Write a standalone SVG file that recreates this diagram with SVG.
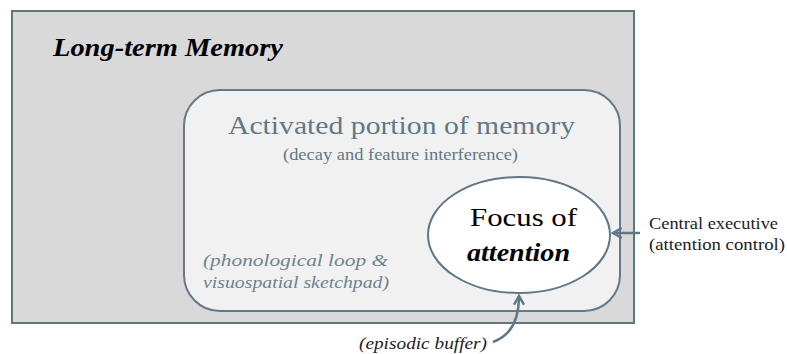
<svg xmlns="http://www.w3.org/2000/svg" width="787" height="354" viewBox="0 0 787 354">
<style>
.serif{font-family:"Liberation Serif","DejaVu Serif",serif}
.hand{font-family:"Liberation Serif","DejaVu Serif",serif;font-style:italic}
.conn{fill:none;stroke:#5e7885;stroke-width:2.5}
</style>
<defs>
<marker id="ah" viewBox="0 0 10 10" refX="8" refY="5" markerWidth="5" markerHeight="5" orient="auto" markerUnits="strokeWidth">
<path d="M1,1 L8,5 L1,9" fill="none" stroke="#5e7885" stroke-width="2"/>
</marker>
</defs>
<g id="ltm">
<rect x="12" y="11" width="622" height="312" fill="#d9d9d9" stroke="#5c7878" stroke-width="2"/>
<text x="53" y="56" class="serif" font-size="26" font-weight="bold" font-style="italic" fill="#000" textLength="230" lengthAdjust="spacingAndGlyphs">Long-term Memory</text>
</g>
<g id="activated">
<rect x="184" y="90" width="436" height="221" rx="36" fill="#f1f1f1" stroke="#62798a" stroke-width="2"/>
<text x="228" y="134" class="serif" font-size="26" fill="#5f7987" textLength="347" lengthAdjust="spacingAndGlyphs">Activated portion of memory</text>
<text x="283" y="160" class="serif" font-size="17" fill="#5f7987" textLength="235" lengthAdjust="spacingAndGlyphs">(decay and feature interference)</text>
<text x="203" y="266" class="hand" font-size="17" fill="#6c8390" textLength="185" lengthAdjust="spacingAndGlyphs">(phonological loop &amp;</text>
<text x="203" y="288" class="hand" font-size="17" fill="#6c8390" textLength="186" lengthAdjust="spacingAndGlyphs">visuospatial sketchpad)</text>
</g>
<g id="focus">
<ellipse cx="519" cy="235" rx="91" ry="58" fill="#ffffff" stroke="#5e7885" stroke-width="2"/>
<text x="470" y="226" class="serif" font-size="26" fill="#000" textLength="107" lengthAdjust="spacingAndGlyphs">Focus of</text>
<text x="467" y="261" class="serif" font-size="26" font-weight="bold" font-style="italic" fill="#000" textLength="103" lengthAdjust="spacingAndGlyphs">attention</text>
</g>
<g id="central">
<text x="649" y="229" class="serif" font-size="17" fill="#222" textLength="129" lengthAdjust="spacingAndGlyphs">Central executive</text>
<text x="649" y="250" class="serif" font-size="17" fill="#222" textLength="136" lengthAdjust="spacingAndGlyphs">(attention control)</text>
</g>
<g id="episodic">
<text x="359" y="349" class="hand" font-size="17" fill="#222" textLength="128" lengthAdjust="spacingAndGlyphs">(episodic buffer)</text>
</g>
<g id="connectors">
<line x1="640" y1="233" x2="613" y2="233" class="conn" marker-end="url(#ah)"/>
<path d="M493,342 C510,336 519,320 519,296" class="conn" marker-end="url(#ah)"/>
</g>
</svg>
